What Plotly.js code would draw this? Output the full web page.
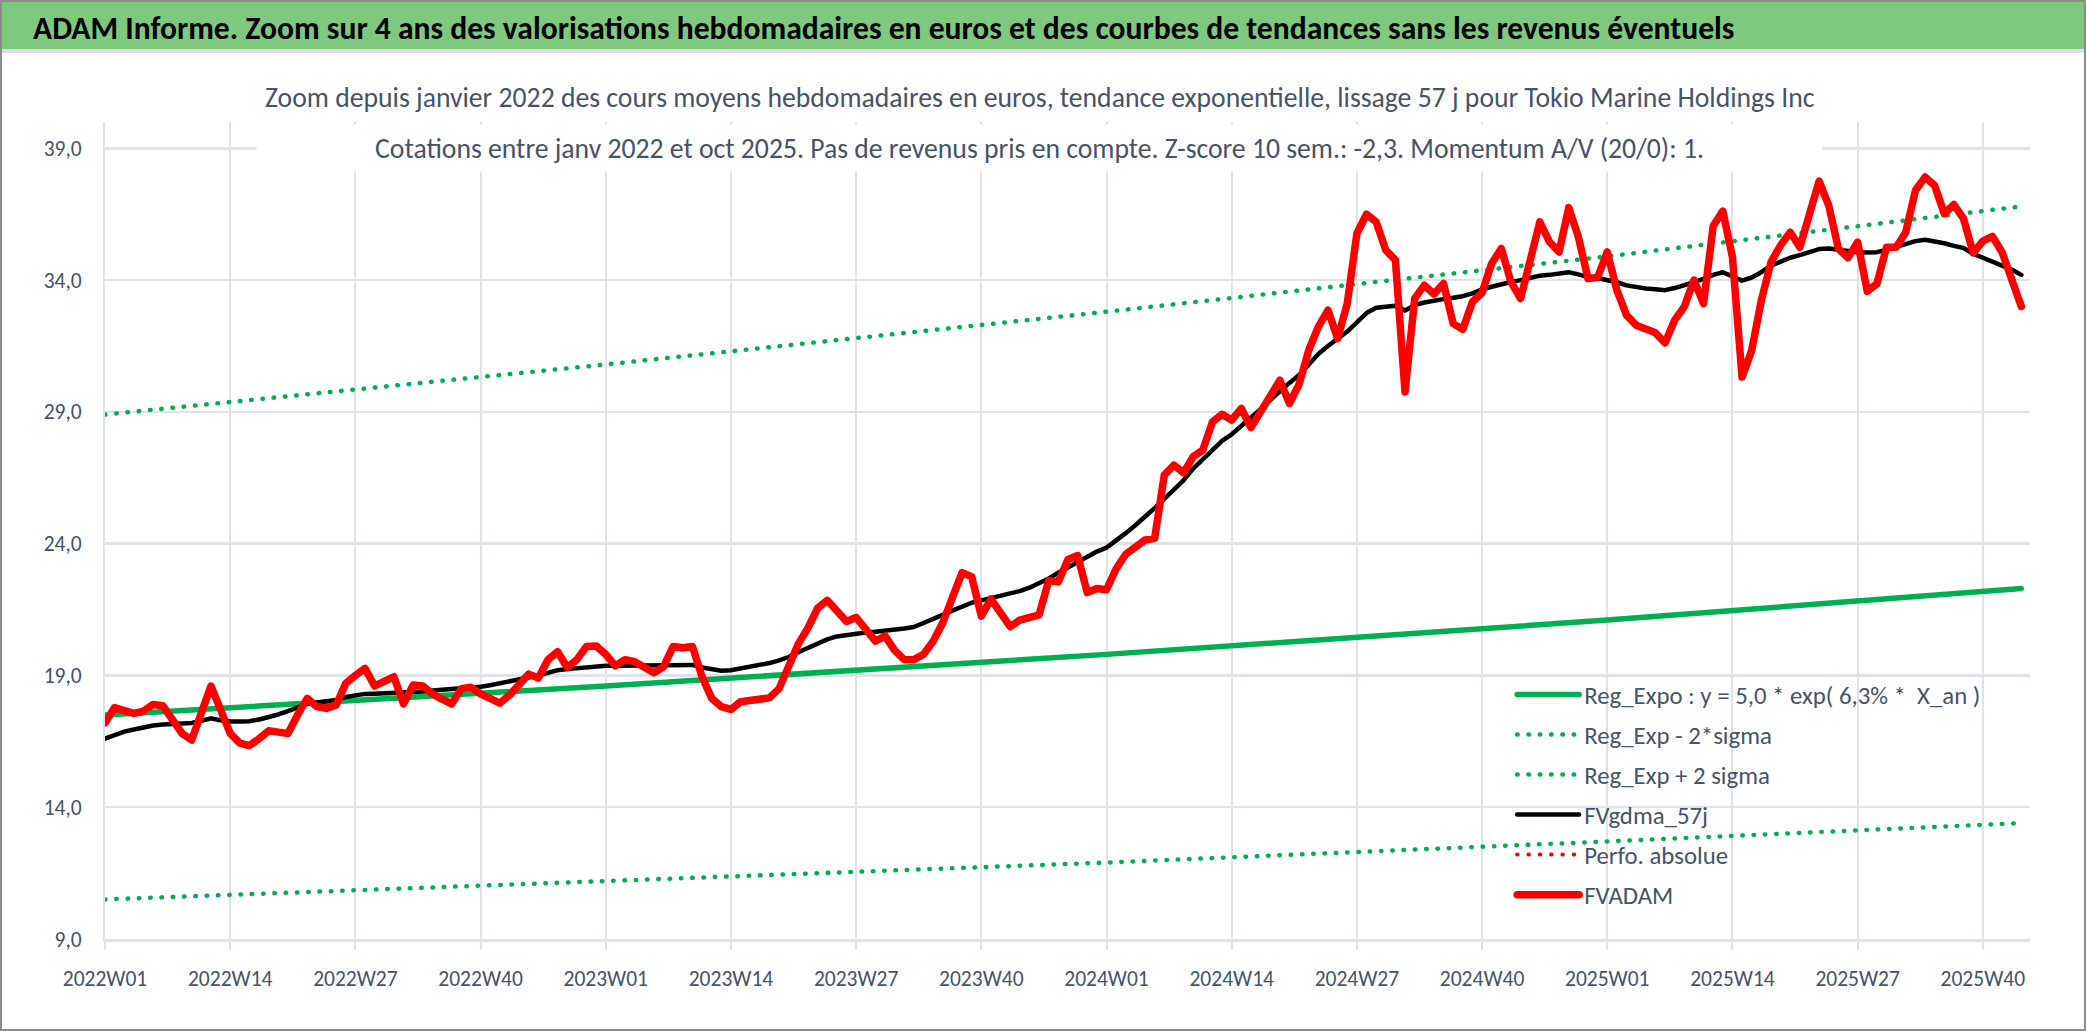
<!DOCTYPE html>
<html>
<head>
<meta charset="utf-8">
<script src="https://cdn.plot.ly/plotly-3.0.1.min.js"></script>
<style>
  html, body { margin: 0; padding: 0; background: #ffffff; }
  body { width: 2086px; height: 1031px; position: relative; overflow: hidden; }
  #frame {
    position: absolute; left: 0; top: 0; width: 2082px; height: 1027px;
    border: 2px solid #8c8c8c; pointer-events: none; z-index: 5;
  }
  #header {
    position: absolute; left: 0; top: 0; width: 2086px; height: 53px;
    background: #7fc97e; border-bottom: 4px solid #dcdee2; z-index: 4;
    font-family: Carlito, 'Liberation Sans', sans-serif;
    font-weight: bold; font-size: 31.6px; color: #000000;
    line-height: 56px; padding-left: 33px; box-sizing: border-box; white-space: nowrap;
  }
  #chart { position: absolute; left: 0; top: 0; width: 2086px; height: 1031px; }
  /* Excel-like round joins, round dots for dotted lines */
  .js-line { stroke-linejoin: round; stroke-linecap: round; }
</style>
</head>
<body>
<div id="chart"></div>
<div id="header">ADAM Informe. Zoom sur 4 ans des valorisations hebdomadaires en euros et des courbes de tendances sans les revenus éventuels</div>
<div id="frame"></div>
<script>
// ---- categories (semaines) ----
const years = [2022, 2023, 2024, 2025];
const weeksPerYear = [52, 52, 52, 44];
const weeks = years.flatMap((y, k) =>
    Array.from({ length: weeksPerYear[k] }, (_, w) => y + 'W' + String(w + 1).padStart(2, '0')));

const tickLabels = ['2022W01', '2022W14', '2022W27', '2022W40', '2023W01', '2023W14', '2023W27', '2023W40',
                    '2024W01', '2024W14', '2024W27', '2024W40', '2025W01', '2025W14', '2025W27', '2025W40'];
const yTicks = [9, 14, 19, 24, 29, 34, 39];

// ---- FVADAM (cours moyens hebdo, euros) ----
const fvadam2022 = [17.2, 17.78, 17.67, 17.56, 17.65, 17.9, 17.85, 17.3, 16.8, 16.55,
    17.6, 18.6, 17.7, 16.8, 16.43, 16.34, 16.6, 16.9, 16.85, 16.8,
    17.5, 18.13, 17.82, 17.75, 17.88, 18.7, 19.0, 19.27, 18.6, 18.8,
    18.95, 17.92, 18.64, 18.6, 18.3, 18.1, 17.92, 18.5, 18.55, 18.3,
    18.15, 17.95, 18.25, 18.65, 19.05, 18.9, 19.6, 19.9, 19.3, 19.6,
    20.1, 20.12];
const fvadam2023 = [19.8, 19.36, 19.6, 19.52, 19.3, 19.1, 19.33, 20.1, 20.05, 20.1,
    18.95, 18.13, 17.82, 17.71, 18.0, 18.05, 18.17, 18.15, 18.5, 19.3,
    20.2, 20.8, 21.55, 21.85, 21.4, 21.05, 21.2, 20.75, 20.3, 20.5,
    19.95, 19.6, 19.6, 19.8, 20.3, 21.0, 21.9, 22.9, 22.75, 21.25,
    21.9, 21.4, 20.85, 21.1, 21.2, 21.3, 22.6, 22.55, 23.4, 23.55,
    22.15, 22.3];
const fvadam2024 = [22.25, 23.05, 23.6, 23.9, 24.14, 24.2, 26.6, 26.98, 26.69, 27.3,
    27.55, 28.62, 28.91, 28.69, 29.13, 28.41, 29.0, 29.55, 30.2, 29.32,
    30.05, 31.34, 32.23, 32.86, 31.78, 33.11, 35.77, 36.5, 36.21, 35.14,
    34.76, 29.76, 33.3, 33.81, 33.47, 33.87, 32.35, 32.13, 33.18, 33.52,
    34.63, 35.2, 33.93, 33.3, 34.76, 36.21, 35.45, 35.07, 36.75, 35.64,
    34.06, 34.1];
const fvadam2025 = [35.07, 33.62, 32.67, 32.29, 32.15, 32.0, 31.62, 32.48, 32.99, 34.0,
    33.11, 36.05, 36.62, 34.87, 30.32, 31.33, 33.23, 34.68, 35.32, 35.82,
    35.25, 36.52, 37.76, 36.83, 35.19, 34.85, 35.44, 33.58, 33.86, 35.25,
    35.25, 35.82, 37.4, 37.91, 37.59, 36.52, 36.87, 36.33, 35.03, 35.48,
    35.66, 35.06, 33.96, 33.0];

// ---- FVgdma_57j (lissage) ----
const gdma2022 = [16.6, 16.75, 16.87, 16.95, 17.03, 17.1, 17.14, 17.16, 17.18, 17.2,
    17.28, 17.37, 17.3, 17.25, 17.25, 17.26, 17.33, 17.42, 17.52, 17.65,
    17.8, 17.92, 17.97, 18.0, 18.07, 18.18, 18.25, 18.3, 18.31, 18.32,
    18.34, 18.36, 18.37, 18.39, 18.43, 18.45, 18.48, 18.51, 18.54, 18.57,
    18.63, 18.7, 18.78, 18.85, 18.93, 19.0, 19.1, 19.2, 19.24, 19.28,
    19.33, 19.36];
const gdma2023 = [19.37, 19.37, 19.37, 19.36, 19.36, 19.36, 19.37, 19.38, 19.39, 19.4,
    19.3, 19.22, 19.18, 19.2, 19.27, 19.3, 19.38, 19.47, 19.57, 19.7,
    19.88, 20.05, 20.23, 20.37, 20.48, 20.54, 20.59, 20.63, 20.66, 20.69,
    20.72, 20.78, 20.84, 20.98, 21.12, 21.3, 21.46, 21.62, 21.76, 21.85,
    21.93, 22.0, 22.08, 22.2, 22.33, 22.5, 22.68, 22.9, 23.1, 23.3,
    23.5, 23.7];
const gdma2024 = [23.85, 24.1, 24.4, 24.7, 25.0, 25.35, 25.7, 26.05, 26.4, 26.85,
    27.2, 27.55, 27.9, 28.15, 28.45, 28.8, 29.1, 29.45, 29.8, 30.1,
    30.4, 30.8, 31.2, 31.5, 31.75, 32.05, 32.4, 32.75, 32.95, 32.97,
    33.03, 32.85, 33.05, 33.15, 33.23, 33.28, 33.33, 33.39, 33.5, 33.65,
    33.75, 33.85, 33.93, 34.0, 34.08, 34.17, 34.2, 34.23, 34.3, 34.22,
    34.12, 34.08];
const gdma2025 = [34.02, 33.92, 33.8, 33.73, 33.68, 33.65, 33.62, 33.7, 33.8, 33.92,
    34.05, 34.2, 34.3, 34.15, 33.98, 34.1, 34.3, 34.55, 34.72, 34.85,
    34.95, 35.05, 35.18, 35.2, 35.14, 35.1, 35.06, 35.05, 35.06, 35.15,
    35.25, 35.38, 35.48, 35.53, 35.47, 35.4, 35.3, 35.22, 35.0, 34.85,
    34.7, 34.55, 34.4, 34.2];

// ---- tendance exponentielle et bandes +/- 2 sigma (lues aux debuts d'annee) ----
const trendWeeks = ['2022W01', '2023W01', '2024W01', '2025W01', '2025W44'];
const regExpo = [17.5, 18.6, 19.8, 21.1, 22.3];
const regLow = [10.5, 11.2, 11.9, 12.7, 13.4];
const regHigh = [28.9, 30.8, 32.8, 34.9, 36.8];

const fvadam = [...fvadam2022, ...fvadam2023, ...fvadam2024, ...fvadam2025];
const gdma = [...gdma2022, ...gdma2023, ...gdma2024, ...gdma2025];

const FONT = "Carlito, 'Liberation Sans', sans-serif";
const TXT = '#44546a';
const GRID = '#dfe2e8';
const GREEN = '#00b050';
const DOTS = '0.5px,10.8px';

const traces = [
    { x: trendWeeks, y: regExpo, name: 'Reg_Expo : y = 5,0 * exp( 6,3% *  X_an )', legendgroup: 'a',
      type: 'scatter', mode: 'lines', line: { color: GREEN, width: 5.5 } },
    { x: trendWeeks, y: regLow, name: 'Reg_Exp - 2*sigma', legendgroup: 'b',
      type: 'scatter', mode: 'lines', line: { color: GREEN, width: 4.5, dash: DOTS } },
    { x: trendWeeks, y: regHigh, name: 'Reg_Exp + 2 sigma', legendgroup: 'c',
      type: 'scatter', mode: 'lines', line: { color: GREEN, width: 4.5, dash: DOTS } },
    { x: weeks, y: gdma, name: 'FVgdma_57j', legendgroup: 'd',
      type: 'scatter', mode: 'lines', line: { color: '#000000', width: 4.5 } },
    { x: [weeks[0]], y: [null], name: 'Perfo. absolue', legendgroup: 'e',
      type: 'scatter', mode: 'lines', line: { color: '#ff0000', width: 4, dash: DOTS } },
    { x: weeks, y: fvadam, name: 'FVADAM', legendgroup: 'f',
      type: 'scatter', mode: 'lines', line: { color: '#ff0000', width: 7.5 } }
];

const layout = {
    width: 2086, height: 1031,
    margin: { l: 105, r: 56, t: 122, b: 92 },
    paper_bgcolor: 'rgba(0,0,0,0)', plot_bgcolor: '#ffffff',
    separators: ', ',
    font: { family: FONT, color: TXT, size: 21 },
    hovermode: false,
    xaxis: {
        type: 'category', categoryorder: 'array', categoryarray: weeks,
        range: [0, 199.9],
        tickmode: 'array', tickvals: tickLabels, ticktext: tickLabels,
        showgrid: true, gridcolor: GRID, gridwidth: 2,
        ticks: 'outside', ticklen: 8, tickwidth: 2, tickcolor: GRID,
        showline: true, linecolor: GRID, linewidth: 3,
        zeroline: false, ticklabelstandoff: 10,
        tickfont: { family: FONT, size: 21.5, color: TXT }
    },
    yaxis: {
        range: [9, 40], tickmode: 'array', tickvals: yTicks, tickformat: '.1f',
        showgrid: true, gridcolor: GRID, gridwidth: 2.5,
        showline: true, linecolor: GRID, linewidth: 2,
        zeroline: false, ticks: '', ticklabelstandoff: 17,
        tickfont: { family: FONT, size: 21.5, color: TXT }
    },
    showlegend: true,
    legend: {
        x: 0.731, y: 0.327, xanchor: 'left', yanchor: 'top',
        bgcolor: 'rgba(0,0,0,0)', borderwidth: 0,
        traceorder: 'grouped', tracegroupgap: 4.8, itemwidth: 62,
        font: { family: FONT, size: 24.8, color: TXT }
    },
    annotations: [
        { xref: 'paper', yref: 'paper', x: 0.4855, y: 1.0294, xanchor: 'center', yanchor: 'middle',
          text: 'Zoom depuis janvier 2022 des cours moyens hebdomadaires en euros, tendance exponentielle, lissage 57 j pour Tokio Marine Holdings Inc',
          showarrow: false, font: { family: FONT, size: 27.7, color: TXT } },
        { xref: 'paper', yref: 'paper', x: 0.4855, y: 0.9682, xanchor: 'center', yanchor: 'middle',
          text: 'Cotations entre janv 2022 et oct 2025. Pas de revenus pris en compte. Z-score 10 sem.: -2,3. Momentum A/V (20/0): 1.',
          showarrow: false, width: 1563, height: 44, bgcolor: '#ffffff',
          font: { family: FONT, size: 27.7, color: TXT } }
    ]
};

Plotly.newPlot('chart', traces, layout, { displayModeBar: false, staticPlot: true });
</script>
</body>
</html>
